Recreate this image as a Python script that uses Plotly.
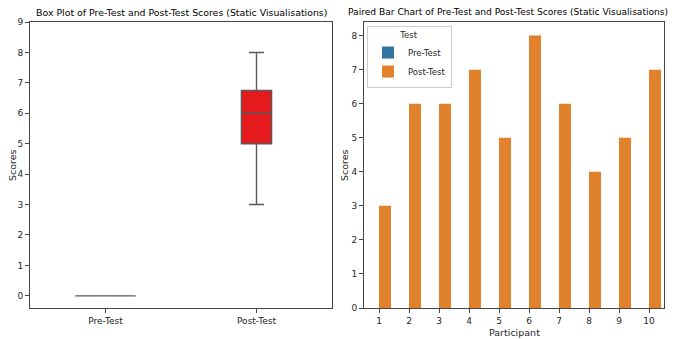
import numpy as np
import plotly.graph_objects as go

participants = [1, 2, 3, 4, 5, 6, 7, 8, 9, 10]
pre_scores = [0, 0, 0, 0, 0, 0, 0, 0, 0, 0]
post_scores = [3, 6, 6, 7, 5, 8, 6, 4, 5, 7]
groups = ["Pre-Test", "Post-Test"]

FONT = "DejaVu Sans, sans-serif"
TXT = "#262626"
AX = "#444444"
BOXLINE = "#5a5a5a"


def stats(v):
    v = np.asarray(v, float)
    q1, med, q3 = np.percentile(v, [25, 50, 75])
    iqr = q3 - q1
    lo = v[v >= q1 - 1.5 * iqr].min()
    hi = v[v <= q3 + 1.5 * iqr].max()
    return q1, med, q3, lo, hi


fig = go.Figure()

for name, vals, w, fill in [("Pre-Test", pre_scores, 0.4, "#3274a1"),
                            ("Post-Test", post_scores, 0.2, "#e41a1c")]:
    q1, med, q3, lo, hi = stats(vals)
    fig.add_trace(go.Box(
        x=[name], q1=[q1], median=[med], q3=[q3],
        lowerfence=[lo], upperfence=[hi],
        width=w, whiskerwidth=0.5,
        fillcolor=fill, line=dict(color=BOXLINE, width=1.4),
        showlegend=False, xaxis="x", yaxis="y", boxpoints=False,
    ))

fig.add_trace(go.Bar(x=participants, y=pre_scores, name="Pre-Test",
                     marker=dict(color="#3274a1", line=dict(width=0)),
                     xaxis="x2", yaxis="y2"))
fig.add_trace(go.Bar(x=participants, y=post_scores, name="Post-Test",
                     marker=dict(color="#e1812c", line=dict(width=0)),
                     xaxis="x2", yaxis="y2"))

W, H = 676, 339
ydom = [1 - 308 / H, 1 - 22 / H]
axcommon = dict(showline=True, linecolor=AX, linewidth=1, mirror=True,
                ticks="outside", ticklen=4, tickcolor=AX, tickwidth=1,
                showgrid=False, zeroline=False, automargin=False,
                tickfont=dict(family=FONT, size=9, color=TXT))

fig.update_layout(
    width=W, height=H,
    margin=dict(l=0, r=0, t=0, b=0, autoexpand=False),
    paper_bgcolor="white", plot_bgcolor="white",
    font=dict(family=FONT, size=9, color=TXT),
    barmode="group", bargap=0.2, bargroupgap=0,
    xaxis=dict(domain=[30 / W, 332 / W], anchor="y", type="category",
               categoryorder="array", categoryarray=groups,
               range=[-0.5, 1.5], **axcommon),
    yaxis=dict(domain=ydom, anchor="x", range=[-0.4, 9], dtick=1,
               tick0=0, **axcommon),
    xaxis2=dict(domain=[364 / W, 664 / W], anchor="y2", range=[0.5, 10.5],
                dtick=1, tick0=1, **axcommon),
    yaxis2=dict(domain=ydom, anchor="x2", range=[0, 8.4], dtick=1,
                tick0=0, **axcommon),
    legend=dict(x=367 / W, y=1 - 26 / H, xref="paper", yref="paper",
                xanchor="left", yanchor="top",
                bgcolor="rgba(255,255,255,0.8)", bordercolor="#cccccc",
                borderwidth=1, font=dict(family=FONT, size=8.5, color=TXT),
                title=dict(text="Test", side="top center",
                           font=dict(family=FONT, size=8.5, color=TXT)),
                itemwidth=30, tracegroupgap=0),
    annotations=[
        dict(text="Box Plot of Pre-Test and Post-Test Scores (Static Visualisations)",
             x=181 / W, y=1 - 12 / H, xref="paper", yref="paper",
             showarrow=False, xanchor="center", yanchor="middle",
             font=dict(family=FONT, size=9.4, color="#000000")),
        dict(text="Paired Bar Chart of Pre-Test and Post-Test Scores (Static Visualisations)",
             x=346 / W, y=1 - 12 / H, xref="paper", yref="paper",
             showarrow=False, xanchor="left", yanchor="middle",
             font=dict(family=FONT, size=9.1, color="#000000")),
        dict(text="Scores", x=12 / W, y=1 - 165 / H, xref="paper", yref="paper",
             showarrow=False, textangle=-90, xanchor="center", yanchor="middle",
             font=dict(family=FONT, size=9.5, color=TXT)),
        dict(text="Scores", x=344 / W, y=1 - 165 / H, xref="paper", yref="paper",
             showarrow=False, textangle=-90, xanchor="center", yanchor="middle",
             font=dict(family=FONT, size=9.5, color=TXT)),
        dict(text="Participant", x=514 / W, y=1 - 332 / H, xref="paper", yref="paper",
             showarrow=False, xanchor="center", yanchor="middle",
             font=dict(family=FONT, size=9.5, color=TXT)),
    ],
)

fig.write_html("out.html", config={"displayModeBar": False},
               post_script="document.body.style.margin='0';document.body.style.overflow='hidden';")
